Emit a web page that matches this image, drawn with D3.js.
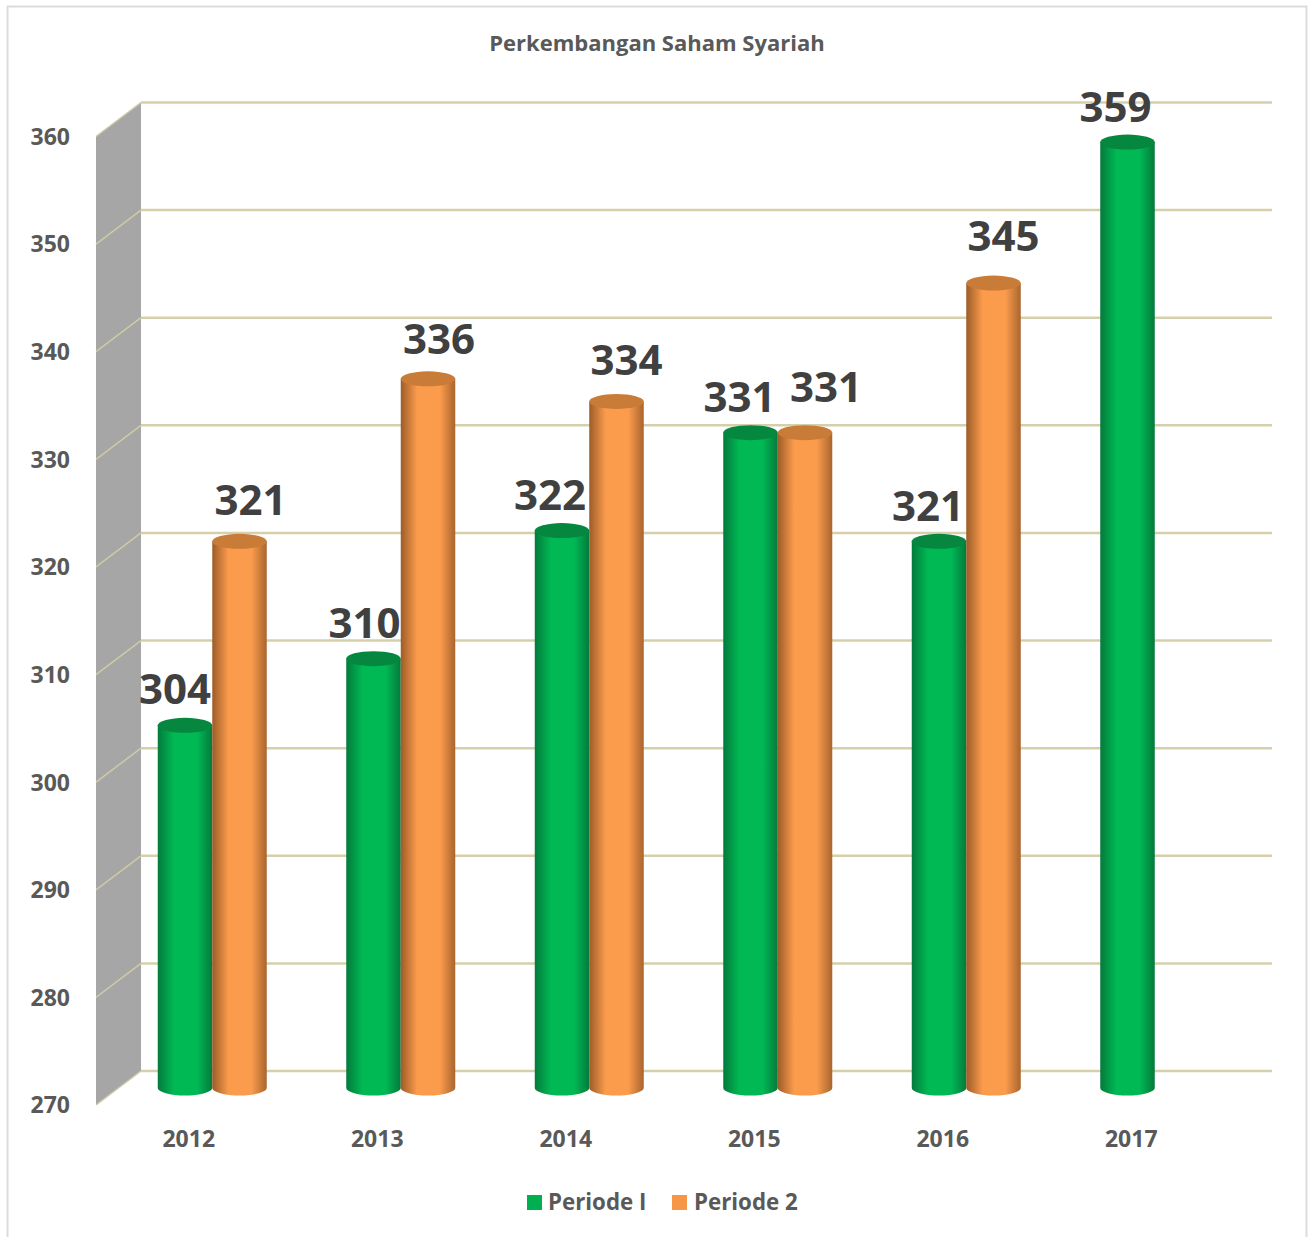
<!DOCTYPE html>
<html>
<head>
<meta charset="utf-8">
<script src="https://cdn.jsdelivr.net/npm/d3@7"></script>
<style>
    html, body { margin: 0; padding: 0; background: #fff; }
    svg { display: block; }
    text { font-family: "Open Sans", Lato, sans-serif; font-weight: 700; }
</style>
</head>
<body>
<svg id="chart"></svg>
<script>
(function () {

    var years = ["2012", "2013", "2014", "2015", "2016", "2017"];
    // bar heights
    var periode1 = [303.7, 309.9, 321.8, 330.9, 320.8, 357.9];
    var periode2 = [320.8, 335.9, 333.8, 330.9, 344.8, null];
    // printed data labels
    var periode1Labels = ["304", "310", "322", "331", "321", "359"];
    var periode2Labels = ["321", "336", "334", "331", "345", ""];
    var yTicks = [270, 280, 290, 300, 310, 320, 330, 340, 350, 360];
    var seriesNames = ["Periode I", "Periode 2"];

    var width = 1308;
    var height = 1237;
    var frontLeft = 96;
    var frontRight = 1227;
    var frontTop = 136.5;
    var frontBottom = 1105;
    var depthX = 45;
    var depthY = 34;
    var barWidth = 54.5;
    var capRy = 7.5;
    var gridColor = "#d5d0aa";

    var x = d3.scaleBand().domain(years).range([frontLeft, frontRight]);
    var y = d3.scaleLinear().domain([270, 360]).range([frontBottom, frontTop]);

    var svg = d3.select("#chart").attr("width", width).attr("height", height);
    var defs = svg.append("defs");

    function addGradient(id, edgeLeft, edgeRight, mid) {
        var g = defs.append("linearGradient").attr("id", id);
        g.append("stop").attr("offset", "0%").attr("stop-color", edgeLeft);
        g.append("stop").attr("offset", "30%").attr("stop-color", mid);
        g.append("stop").attr("offset", "72%").attr("stop-color", mid);
        g.append("stop").attr("offset", "100%").attr("stop-color", edgeRight);
    }
    addGradient("greenBar", "#047a3c", "#047a3c", "#00b954");
    addGradient("orangeBar", "#9c5c28", "#a9652e", "#fb9b4c");

    // chart border
    svg.append("path")
        .attr("d", "M7.5," + height + "V6.5H1306.5V" + height)
        .attr("fill", "none")
        .attr("stroke", "#dcdcdc")
        .attr("stroke-width", 2);

    svg.append("text")
        .attr("x", 657)
        .attr("y", 51)
        .attr("text-anchor", "middle")
        .attr("font-size", 22)
        .attr("fill", "#595959")
        .text("Perkembangan Saham Syariah");

    // side wall
    svg.append("polygon")
        .attr("points", [
            [frontLeft, y(360)],
            [frontLeft + depthX, y(360) - depthY],
            [frontLeft + depthX, y(270) - depthY],
            [frontLeft, y(270)]
        ].join(" "))
        .attr("fill", "#a6a6a6");

    // gridlines on back wall
    svg.append("g")
        .selectAll("line")
        .data(yTicks)
        .enter()
        .append("line")
        .attr("x1", frontLeft + depthX)
        .attr("x2", frontRight + depthX)
        .attr("y1", d => y(d) - depthY)
        .attr("y2", d => y(d) - depthY)
        .attr("stroke", gridColor)
        .attr("stroke-width", 2.5);

    // gridlines on side wall
    svg.append("g")
        .selectAll("line")
        .data(yTicks)
        .enter()
        .append("line")
        .attr("x1", frontLeft)
        .attr("x2", frontLeft + depthX)
        .attr("y1", d => y(d))
        .attr("y2", d => y(d) - depthY)
        .attr("stroke", "#cfcaa6")
        .attr("stroke-width", 1.5);

    var yAxis = d3.axisLeft(y).tickValues(yTicks).tickSize(0).tickPadding(0);
    var yAxisG = svg.append("g")
        .attr("transform", "translate(70,0.5)")
        .call(yAxis);
    yAxisG.select(".domain").remove();
    yAxisG.selectAll("text")
        .attr("font-size", 23)
        .attr("font-family", "Open Sans")
        .attr("fill", "#595959");

    var xAxis = d3.axisBottom(x).tickSize(0).tickPadding(0);
    var xAxisG = svg.append("g")
        .attr("transform", "translate(-1.5,1131)")
        .call(xAxis);
    xAxisG.select(".domain").remove();
    xAxisG.selectAll("text")
        .attr("font-size", 23)
        .attr("font-family", "Open Sans")
        .attr("fill", "#595959");

    // cylinders sit halfway into the floor depth
    function barCenter(year, seriesIndex) {
        return x(year) + x.bandwidth() / 2 + depthX / 2 - 0.5 + (seriesIndex === 0 ? -barWidth / 2 : barWidth / 2);
    }

    function drawCylinders(values, seriesIndex, fillId, capColor) {
        var rows = years.map((yr, i) => ({ year: yr, value: values[i] })).filter(d => d.value !== null);
        var bars = svg.append("g").selectAll("g")
            .data(rows)
            .enter()
            .append("g");
        bars.append("path")
            .attr("d", function (d) {
                var left = barCenter(d.year, seriesIndex) - barWidth / 2;
                var top = y(d.value) - depthY / 2;
                var bottom = y(270) - depthY / 2;
                return "M" + left + "," + top + "V" + bottom
                    + "A" + (barWidth / 2) + "," + capRy + " 0 0 0 " + (left + barWidth) + "," + bottom
                    + "V" + top + "Z";
            })
            .attr("fill", "url(#" + fillId + ")");
        bars.append("ellipse")
            .attr("cx", d => barCenter(d.year, seriesIndex))
            .attr("cy", d => y(d.value) - depthY / 2)
            .attr("rx", barWidth / 2)
            .attr("ry", capRy)
            .attr("fill", capColor);
    }
    drawCylinders(periode1, 0, "greenBar", "#05873f");
    drawCylinders(periode2, 1, "orangeBar", "#c97b38");

    // manual label nudges, the original labels were dragged around by hand
    var label1Nudge = [[-10, -21], [-9, -21], [-12, -21], [-11, -21], [-11, -20], [-12, -20]];
    var label2Nudge = [[11, -26], [11, -25], [10, -26], [21, -31], [10, -32], [0, 0]];

    function drawLabels(values, labels, nudge, seriesIndex) {
        svg.append("g").selectAll("text")
            .data(values.map((v, i) => ({ v: v, i: i, label: labels[i] })).filter(d => d.v !== null))
            .enter()
            .append("text")
            .attr("x", d => barCenter(years[d.i], seriesIndex) + nudge[d.i][0])
            .attr("y", d => y(d.v) - depthY / 2 + nudge[d.i][1])
            .attr("text-anchor", "middle")
            .attr("font-size", 42)
            .attr("fill", "#404040")
            .text(d => d.label);
    }
    drawLabels(periode1, periode1Labels, label1Nudge, 0);
    drawLabels(periode2, periode2Labels, label2Nudge, 1);

    // legend
    var legendColors = ["#00b050", "#f79646"];
    var legendX = [527, 672];
    var legend = svg.append("g").selectAll("g")
        .data(seriesNames)
        .enter()
        .append("g")
        .attr("transform", (d, i) => "translate(" + legendX[i] + ",1195)");
    legend.append("rect")
        .attr("width", 15)
        .attr("height", 15)
        .attr("fill", (d, i) => legendColors[i]);
    legend.append("text")
        .attr("x", (d, i) => i === 0 ? 21 : 22)
        .attr("y", 15)
        .attr("font-size", 22.3)
        .attr("fill", "#595959")
        .text(d => d);

})();
</script>
</body>
</html>
